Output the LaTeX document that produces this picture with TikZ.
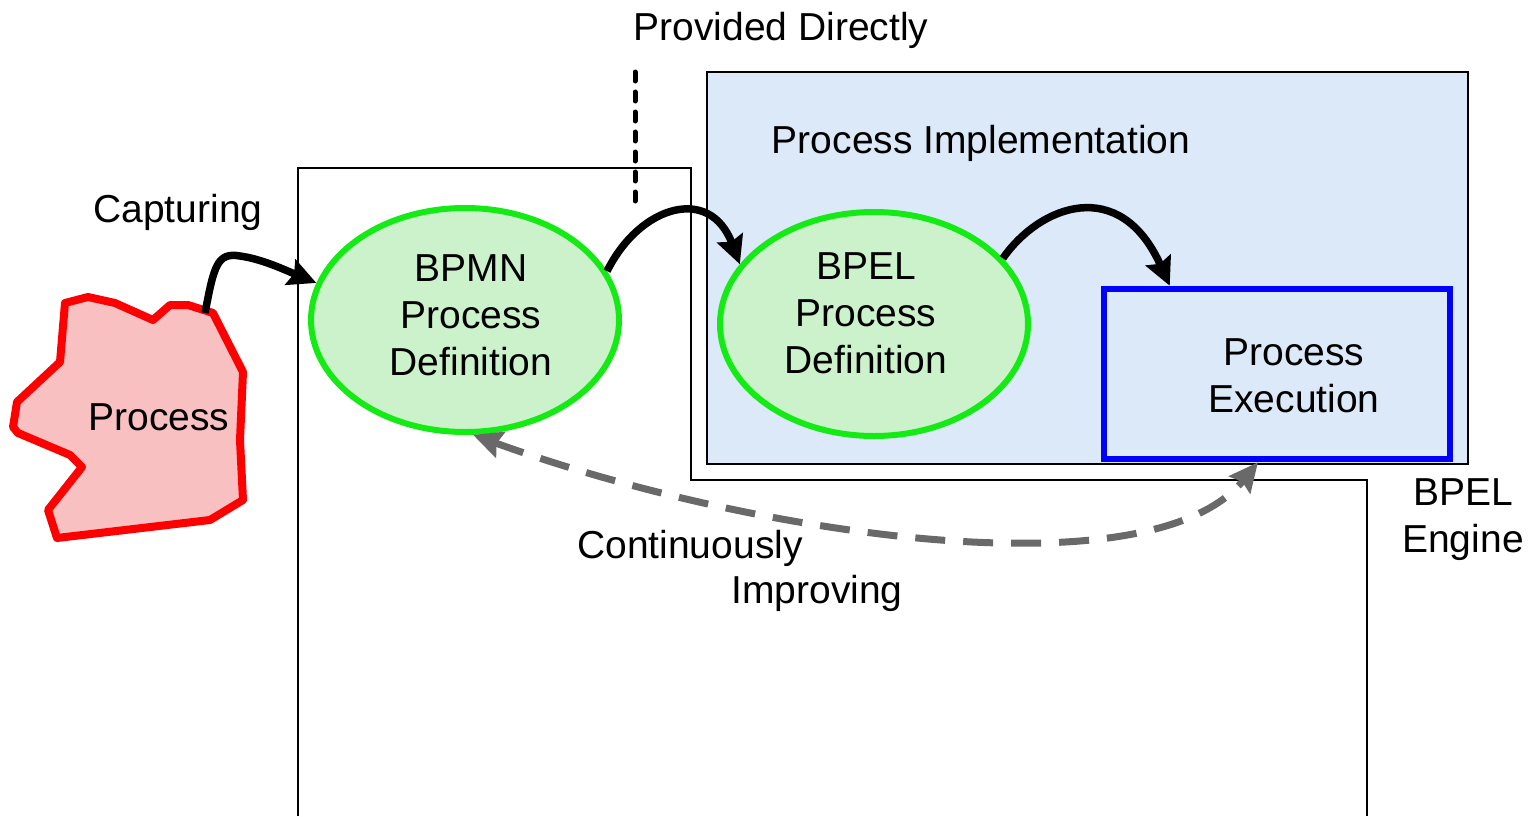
\documentclass[tikz,border=0pt]{standalone}
\usepackage{fontspec}
\setmainfont{Liberation Sans}
\usetikzlibrary{arrows.meta,shapes.geometric}
\definecolor{limeline}{RGB}{20,235,20}
\definecolor{limefill}{RGB}{204,242,204}
\definecolor{pinkfill}{RGB}{248,192,192}
\definecolor{skyfill}{RGB}{220,233,248}
\definecolor{loopgray}{RGB}{105,105,105}
\begin{document}
\begin{tikzpicture}[x=1pt,y=-1pt,
  font=\fontsize{39}{47}\selectfont,
  every node/.style={inner sep=0pt,text depth=0pt},
  framing/.style={line width=2.5pt},
  defn/.style={ellipse,draw=limeline,line width=6pt,fill=limefill,
    minimum width=308,minimum height=224},
  execbox/.style={draw=blue,line width=6.5pt,minimum width=346,minimum height=170},
  flow/.style={line width=7.5pt,-{Stealth[inset=4pt,length=28pt,width=27pt]}},
  loopback/.style={draw=loopgray,line width=7pt,dash pattern=on 30pt off 18pt,
    {Stealth[inset=4pt,length=29pt,width=27pt]}-{Stealth[inset=4pt,length=29pt,width=27pt]}},
  guide/.style={line width=5pt,line cap=round,dash pattern=on 9pt off 11pt}]
\useasboundingbox (0,0) rectangle (1533,816);

% outline of the modelling area
\draw[framing] (298,816) -- (298,168) -- (691,168) -- (691,480) -- (1367,480) -- (1367,816);

% implementation area
\draw[framing,fill=skyfill] (707,72) rectangle (1468,464);

% boundary between modelling and implementation
\draw[guide] (635,72) -- (635,205);

% execution box inside the engine
\node[execbox] (exec) at (1277,374) {};
\node[align=center] (exectext) at (1294,376) {Process\\Execution};

% definitions
\node[defn,label={[name=bpmntext,align=center,xshift=6pt,yshift=5pt]center:BPMN\\Process\\Definition}]
  (bpmn) at (465,320) {};
\node[defn,label={[name=bpeltext,align=center,xshift=-8pt,yshift=11pt]center:BPEL\\Process\\Definition}]
  (bpel) at (874,324) {};

% real-world process blob
\draw[draw=red,line width=8pt,line join=round,fill=pinkfill]
  (65,303) -- (88,297) -- (115,303) -- (153,320) -- (170,305) -- (188,305)
  -- (213,313) -- (243,372) -- (240,440) -- (243,500) -- (210,520)
  -- (57,538) -- (48,510) -- (82,467) -- (70,455) -- (18,433) -- (13,427)
  -- (17,402) -- (60,362) -- cycle;
\coordinate (procTop) at (205,313);
\node (proclabel) at (159,417) {Process};

% flows
\draw[flow] (procTop) .. controls (214,266) and (217,252) .. (240,256)
  .. controls (262,259) and (285,270) .. (bpmn.166);
\draw[flow] (bpmn.19) .. controls (640,205) and (710,185) .. (bpel.156);
\draw[flow] (bpel.27) .. controls (1040,205) and (1120,175) .. ([xshift=69pt]exec.north west);
\draw[loopback] (bpmn.274) .. controls (750,535) and (1150,595) .. ([xshift=-19pt]exec.south);

% labels
\node (provided) at (781,26) {Provided Directly};
\node (capturing) at (178,208) {Capturing};
\node (impl) at (981,139) {Process Implementation};
\node[align=center] (engine) at (1463,516) {BPEL\\Engine};
\node (cont) at (690,544) {Continuously};
\node (impr) at (817,589) {Improving};
\end{tikzpicture}
\end{document}
